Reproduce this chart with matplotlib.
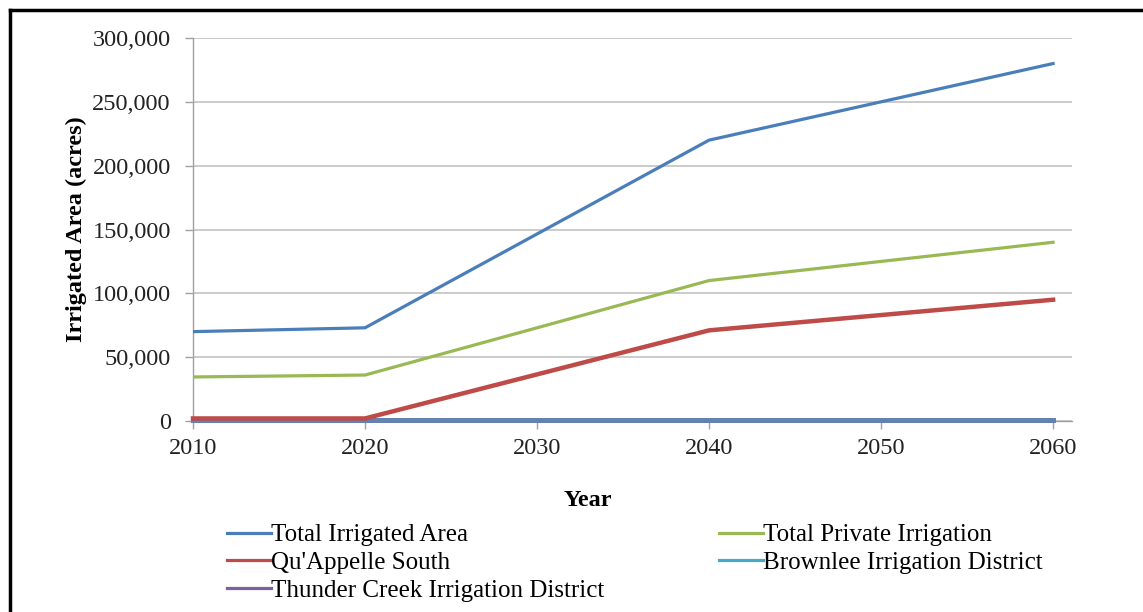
import matplotlib
matplotlib.use("Agg")
import matplotlib.pyplot as plt
from matplotlib.lines import Line2D
from matplotlib.ticker import FuncFormatter

plt.rcParams['font.family'] = ['Liberation Serif', 'DejaVu Serif']

#### DATA ####
years = [2010, 2020, 2030, 2040, 2050, 2060]
total_irrigated = [70000, 73000, 146500, 220000, 250000, 280000]
private_irrigation = [34500, 36000, 73000, 110000, 125000, 140000]
quappelle_south = [2000, 2000, 36500, 71000, 83000, 95000]
brownlee = [1000, 1000, 1000, 1000, 1000, 1000]
thunder_creek = [1000, 1000, 1000, 1000, 1000, 1000]

series_names = ['Total Irrigated Area', 'Total Private Irrigation', "Qu'Appelle South",
                'Brownlee Irrigation District', 'Thunder Creek Irrigation District']
colors = ['#4A7EBB', '#98B954', '#BE4B48', '#46AAC5', '#7D60A0']

y_ticks = [0, 50000, 100000, 150000, 200000, 250000, 300000]

W, H = 1143, 612
fig = plt.figure(figsize=(W / 100, H / 100), dpi=100)
ax = fig.add_axes([193 / W, 1 - 421 / H, (1072 - 193) / W, (421 - 38) / H])

ax.plot(years, total_irrigated, color=colors[0], lw=2.3, zorder=3)
ax.plot(years, private_irrigation, color=colors[1], lw=2.3, zorder=3)
# the near-zero lines sit above the bottom spine
ax.plot(years, brownlee, color=colors[3], lw=3.6, zorder=2.6, clip_on=False)
# purple drawn half transparent over cyan, like the overlap in the original
ax.plot(years, thunder_creek, color=colors[4], lw=3.6, alpha=0.55, zorder=2.7, clip_on=False)
ax.plot(years, quappelle_south, color=colors[2], lw=3.2, zorder=4, clip_on=False)

ax.set_xlim(2010, 2061.1)
ax.set_ylim(0, 300000)
ax.set_xticks(years)
ax.set_yticks(y_ticks)
ax.yaxis.set_major_formatter(FuncFormatter(lambda v, p: '{:,.0f}'.format(v)))
ax.grid(axis='y', color='#BDBDBD', lw=1.1)
ax.set_axisbelow(True)
for s in ['top', 'right']:
    ax.spines[s].set_visible(False)
for s in ['left', 'bottom']:
    ax.spines[s].set_color('#A0A0A0')
    ax.spines[s].set_linewidth(1.0)
ax.tick_params(axis='both', colors='#A0A0A0', labelcolor='#222222', labelsize=17.5, length=6, width=1)
ax.tick_params(axis='y', pad=10)
ax.tick_params(axis='x', pad=6)

ax.set_ylabel('Irrigated Area (acres)', fontsize=17.5, fontweight='bold', labelpad=4)
fig.text(588 / W, 1 - 500 / H, 'Year', fontsize=17.5, fontweight='bold', ha='center', va='center')

# legend, column-wise order as in the original
handles = [Line2D([], [], color=c, lw=2.3) for c in colors]
order = [0, 2, 4, 1, 3]
fig.legend([handles[i] for i in order], [series_names[i] for i in order],
           ncol=2, loc='upper left', bbox_to_anchor=(227 / W, 1 - 524 / H),
           frameon=False, fontsize=18, handlelength=1.76, handletextpad=0.0,
           columnspacing=4.6, labelspacing=0.2, borderpad=0, borderaxespad=0)

# outer frame (top and left edges visible)
fig.add_artist(Line2D([10 / W, 1], [1 - 10 / H, 1 - 10 / H], color='black', lw=2.5, transform=fig.transFigure))
fig.add_artist(Line2D([10 / W, 10 / W], [0, 1 - 10 / H], color='black', lw=2.5, transform=fig.transFigure))

fig.savefig('out.png', dpi=100)
